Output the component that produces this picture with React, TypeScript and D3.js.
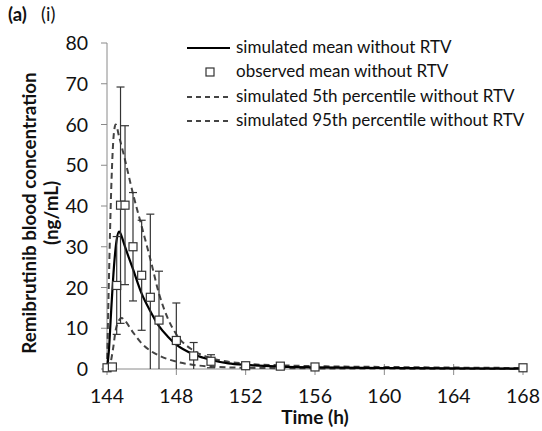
import React from "react";
import * as d3 from "d3";

const xTicks = [144, 148, 152, 156, 160, 164, 168];
const yTicks = [0, 10, 20, 30, 40, 50, 60, 70, 80];

const simTime = [144, 144.1, 144.25, 144.4, 144.55, 144.7, 144.85, 145, 145.5, 146, 146.5, 147, 147.5, 148, 149, 150, 151, 152, 154, 156, 160, 164, 168];
const simMean = [0, 4, 15, 25, 31.5, 33.7, 32.5, 30.5, 24.5, 18.5, 14.2, 10.5, 8, 6, 3.6, 2.2, 1.4, 1.0, 0.6, 0.4, 0.25, 0.15, 0.1];

const p95Time = [144, 144.1, 144.25, 144.4, 144.5, 144.7, 145, 145.5, 146, 146.5, 147, 147.5, 148, 149, 150, 151, 152, 154, 156, 160, 164, 168];
const sim95 = [0, 20, 45, 58, 60, 57, 52, 43, 35, 27, 18.5, 12.5, 8.5, 4.5, 2.7, 1.8, 1.3, 0.9, 0.7, 0.5, 0.35, 0.25];

const p5Time = [144, 144.2, 144.35, 144.5, 144.7, 144.85, 145, 145.5, 146, 146.5, 147, 148, 149, 150, 152, 156, 160, 168];
const sim5 = [0, 1.5, 5, 9.5, 12, 12.5, 12, 9, 6.3, 4.5, 3.3, 1.8, 1.0, 0.6, 0.3, 0.15, 0.1, 0.05];

const obsTime = [144, 144.31, 144.56, 144.78, 145.04, 145.5, 146, 146.5, 147, 148, 149, 150, 152, 154, 156, 168];
const obsMean = [0.3, 0.5, 20.5, 40.2, 40.2, 30, 23, 17.6, 12, 7, 3.2, 1.9, 0.8, 0.7, 0.5, 0.3];
const obsSd = [0, 0, 12, 29, 19.5, 13.3, 13.5, 20.4, 12, 9.2, 3.3, 1.6, 0.5, 0.4, 0.3, 0];

const legendLabels = [
  "simulated mean without RTV",
  "observed mean without RTV",
  "simulated 5th percentile without RTV",
  "simulated 95th percentile without RTV",
];

const FONT = "Lato, 'Open Sans', sans-serif";

export default function App() {
  const W = 542, H = 431;
  const x = d3.scaleLinear().domain([144, 168]).range([107, 523]);
  const y = d3.scaleLinear().domain([0, 80]).range([369, 43]);

  const mk = (t: number[], v: number[]) =>
    d3.line<number>().x((_, i) => x(t[i])).y((d) => y(d)).curve(d3.curveMonotoneX)(v) || "";

  const axisColor = "#8a8a8a";
  const dash = "6,4";
  const dashColor = "#444";
  const legendY = [48, 72, 97, 121];

  return (
    <svg width={W} height={H} style={{ position: "absolute", left: 0, top: 0, background: "#fff" }} fontFamily={FONT}>
      <text x={8} y={21} fontSize={18.5} fontWeight="bold" fill="#111">(a)</text>
      <text x={41} y={21} fontSize={18.5} fill="#111">(i)</text>

      {/* axes */}
      <line x1={x(144)} x2={x(144)} y1={y(80)} y2={y(0)} stroke={axisColor} strokeWidth={1} />
      <line x1={x(144)} x2={x(168)} y1={y(0)} y2={y(0)} stroke={axisColor} strokeWidth={1} />
      {yTicks.map((t) => (
        <g key={"y" + t}>
          <line x1={x(144) - 6} x2={x(144)} y1={y(t)} y2={y(t)} stroke={axisColor} />
          <text x={88} y={y(t) + 7} fontSize={19.5} textAnchor="end" fill="#111">{t}</text>
        </g>
      ))}
      {xTicks.map((t) => (
        <g key={"x" + t}>
          <line x1={x(t)} x2={x(t)} y1={y(0) - 5} y2={y(0) + 6} stroke={axisColor} />
          <text x={x(t)} y={403} fontSize={19.5} textAnchor="middle" fill="#111">{t}</text>
        </g>
      ))}

      <text x={315} y={424} fontSize={19} fontWeight="bold" textAnchor="middle" fill="#111">Time (h)</text>
      <g transform="translate(36,213) rotate(-90)">
        <text x={0} y={0} fontSize={18.8} fontWeight="bold" textAnchor="middle" fill="#111">Remibrutinib blood concentration</text>
        <text x={0} y={22} fontSize={18.8} fontWeight="bold" textAnchor="middle" fill="#111">(ng/mL)</text>
      </g>

      {/* simulated lines */}
      <path d={mk(p95Time, sim95)} fill="none" stroke={dashColor} strokeWidth={2} strokeDasharray={dash} />
      <path d={mk(p5Time, sim5)} fill="none" stroke={dashColor} strokeWidth={2} strokeDasharray={dash} />
      <path d={mk(simTime, simMean)} fill="none" stroke="#000" strokeWidth={2.2} />

      {/* error bars */}
      {obsTime.map((t, i) => {
        const sd = obsSd[i];
        if (sd <= 0) return null;
        const hi = obsMean[i] + sd;
        const lo = Math.max(0, obsMean[i] - sd);
        const cx = x(t);
        return (
          <g key={"e" + i} stroke="#333" strokeWidth={1.2}>
            <line x1={cx} x2={cx} y1={y(hi)} y2={y(lo)} />
            <line x1={cx - 4} x2={cx + 4} y1={y(hi)} y2={y(hi)} />
            {lo > 0 && <line x1={cx - 4} x2={cx + 4} y1={y(lo)} y2={y(lo)} />}
          </g>
        );
      })}
      {obsTime.map((t, i) => (
        <rect key={"o" + i} x={x(t) - 4} y={y(obsMean[i]) - 4} width={8} height={8} fill="#fff" stroke="#333" strokeWidth={1.2} />
      ))}

      {/* legend */}
      <line x1={187} x2={230} y1={legendY[0]} y2={legendY[0]} stroke="#000" strokeWidth={2} />
      <rect x={206} y={legendY[1] - 4} width={8} height={8} fill="#fff" stroke="#333" strokeWidth={1.2} />
      <line x1={187} x2={230} y1={legendY[2]} y2={legendY[2]} stroke={dashColor} strokeWidth={2} strokeDasharray="5,4" />
      <line x1={187} x2={230} y1={legendY[3]} y2={legendY[3]} stroke={dashColor} strokeWidth={2} strokeDasharray="5,4" />
      {legendLabels.map((l, i) => (
        <text key={l} x={236} y={legendY[i] + 5} fontSize={17} fill="#111">{l}</text>
      ))}
    </svg>
  );
}
